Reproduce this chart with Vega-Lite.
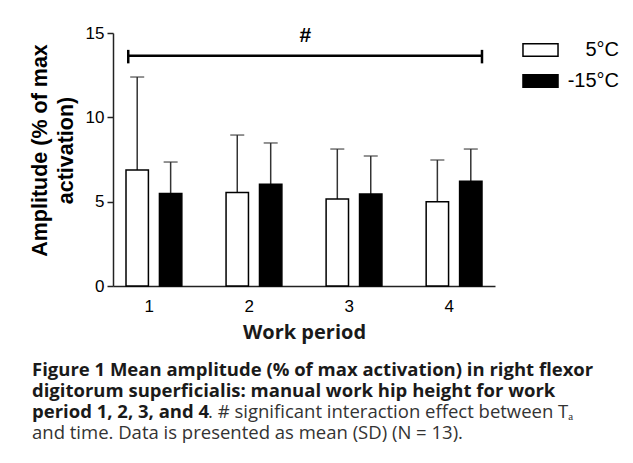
{
  "$schema": "https://vega.github.io/schema/vega-lite/v6.json",
  "autosize": "none",
  "width": 382,
  "height": 253,
  "padding": {"left": 113, "top": 33, "right": 138, "bottom": 177},
  "background": "white",
  "title": {
    "text": ["Figure 1 Mean amplitude (% of max activation) in right flexor", "digitorum superficialis: manual work hip height for work", "period 1, 2, 3, and 4"],
    "subtitle": ["\u200b\u00a0\u00a0\u00a0\u00a0\u00a0\u00a0\u00a0\u00a0\u00a0\u00a0\u00a0\u00a0\u00a0\u00a0\u00a0\u00a0\u00a0\u00a0\u00a0\u00a0\u00a0\u00a0\u00a0\u00a0\u00a0\u00a0\u00a0\u00a0\u00a0\u00a0\u00a0\u00a0\u00a0\u00a0\u00a0\u00a0\u2009. # significant interaction effect between T\u2090", "and time. Data is presented as mean (SD) (N = 13)."],
    "orient": "bottom",
    "anchor": "start",
    "frame": "group",
    "dx": -81,
    "offset": 19,
    "font": "Open Sans",
    "fontSize": 18.5,
    "fontWeight": "bold",
    "color": "#1a1a1a",
    "lineHeight": 21,
    "subtitleFont": "Open Sans",
    "subtitleFontSize": 18.5,
    "subtitleFontWeight": "normal",
    "subtitleColor": "#333333",
    "subtitleLineHeight": 21,
    "subtitlePadding": -18.5
  },
  "datasets": {
    "bars": [
      {"period": "1", "temp": "5°C", "mean": 6.88, "mean_plus_sd": 12.39},
      {"period": "1", "temp": "-15°C", "mean": 5.49, "mean_plus_sd": 7.35},
      {"period": "2", "temp": "5°C", "mean": 5.55, "mean_plus_sd": 8.95},
      {"period": "2", "temp": "-15°C", "mean": 6.03, "mean_plus_sd": 8.48},
      {"period": "3", "temp": "5°C", "mean": 5.16, "mean_plus_sd": 8.12},
      {"period": "3", "temp": "-15°C", "mean": 5.45, "mean_plus_sd": 7.71},
      {"period": "4", "temp": "5°C", "mean": 5.0, "mean_plus_sd": 7.47},
      {"period": "4", "temp": "-15°C", "mean": 6.21, "mean_plus_sd": 8.12}
    ],
    "sig": [
      {"from": "1", "to": "4", "bracket_y": 13.65, "cap_lo": 13.2, "cap_hi": 14.0, "label": "#", "label_y": 14.82}
    ]
  },
  "layer": [
    {
      "data": {"name": "bars"},
      "mark": {"type": "rule", "color": "#333333", "strokeWidth": 1.5},
      "encoding": {
        "x": {"field": "period", "type": "nominal", "title": "Work period"},
        "xOffset": {"field": "temp", "type": "nominal", "sort": ["5°C", "-15°C"]},
        "y": {"field": "mean", "type": "quantitative", "title": ["Amplitude (% of max", "activation)"]},
        "y2": {"field": "mean_plus_sd"}
      }
    },
    {
      "data": {"name": "bars"},
      "mark": {"type": "tick", "color": "#333333", "thickness": 1.5, "size": 14},
      "encoding": {
        "x": {"field": "period", "type": "nominal", "title": "Work period"},
        "xOffset": {"field": "temp", "type": "nominal", "sort": ["5°C", "-15°C"]},
        "y": {"field": "mean_plus_sd", "type": "quantitative", "title": ["Amplitude (% of max", "activation)"]}
      }
    },
    {
      "data": {"name": "bars"},
      "mark": {"type": "bar", "stroke": "black", "strokeWidth": 1.5},
      "encoding": {
        "x": {
          "field": "period", "type": "nominal", "title": "Work period",
          "scale": {"domain": ["1", "2", "3", "4"], "paddingInner": 0.442, "paddingOuter": 0.13},
          "axis": {
            "labelAngle": 0, "ticks": false, "tickSize": 0, "labelPadding": 20,
            "labelFont": "Liberation Sans", "labelFontSize": 17, "labelColor": "black",
            "domainColor": "#222222", "domainWidth": 1.5,
            "titleFont": "Open Sans", "titleFontSize": 20, "titleFontWeight": "bold", "titleColor": "#1a1a1a", "titlePadding": 8
          }
        },
        "xOffset": {
          "field": "temp", "type": "nominal", "sort": ["5°C", "-15°C"],
          "scale": {"domain": ["5°C", "-15°C"], "paddingInner": 0.33, "paddingOuter": 0}
        },
        "y": {
          "field": "mean", "type": "quantitative", "title": ["Amplitude (% of max", "activation)"],
          "scale": {"domain": [0, 15], "nice": false},
          "axis": {
            "values": [0, 5, 10, 15], "grid": false, "tickSize": 6, "tickWidth": 1.5, "tickColor": "#222222",
            "domainColor": "#222222", "domainWidth": 1.5, "labelPadding": 3,
            "labelFont": "Liberation Sans", "labelFontSize": 17, "labelColor": "black",
            "titleFont": "Liberation Sans", "titleFontSize": 21.5, "titleFontWeight": "bold", "titleColor": "black",
            "titleLineHeight": 26, "titlePadding": 8, "titleY": 117
          }
        },
        "fill": {
          "field": "temp", "type": "nominal",
          "scale": {"domain": ["5°C", "-15°C"], "range": ["white", "black"]},
          "legend": {
            "title": null, "orient": "none", "legendX": 414.5, "legendY": 4, "padding": 0,
            "symbolType": "M-1.46,-0.53H1.46V0.53H-1.46Z", "symbolSize": 576,
            "symbolStrokeColor": "black", "symbolStrokeWidth": 1.5,
            "labelFont": "Liberation Sans", "labelFontSize": 20, "labelColor": "black",
            "labelAlign": "right", "labelOffset": 65.5, "rowPadding": 8
          }
        }
      }
    },
    {
      "data": {"name": "sig"},
      "mark": {"type": "rule", "color": "black", "strokeWidth": 2.5},
      "encoding": {
        "x": {"field": "from", "type": "nominal", "bandPosition": 0.04, "title": "Work period"},
        "x2": {"field": "to", "bandPosition": 1},
        "y": {"field": "bracket_y", "type": "quantitative", "title": ["Amplitude (% of max", "activation)"]}
      }
    },
    {
      "data": {"name": "sig"},
      "mark": {"type": "rule", "color": "black", "strokeWidth": 2.5},
      "encoding": {
        "x": {"field": "from", "type": "nominal", "bandPosition": 0.04, "title": "Work period"},
        "y": {"field": "cap_lo", "type": "quantitative", "title": ["Amplitude (% of max", "activation)"]},
        "y2": {"field": "cap_hi"}
      }
    },
    {
      "data": {"name": "sig"},
      "mark": {"type": "rule", "color": "black", "strokeWidth": 2.5},
      "encoding": {
        "x": {"field": "to", "type": "nominal", "bandPosition": 1, "title": "Work period"},
        "y": {"field": "cap_lo", "type": "quantitative", "title": ["Amplitude (% of max", "activation)"]},
        "y2": {"field": "cap_hi"}
      }
    },
    {
      "data": {"name": "sig"},
      "mark": {"type": "text", "font": "Liberation Sans", "fontSize": 21, "fontWeight": "bold", "color": "black", "align": "center", "baseline": "middle"},
      "encoding": {
        "x": {"datum": "2", "type": "nominal", "bandPosition": 1.42, "title": "Work period"},
        "y": {"field": "label_y", "type": "quantitative", "title": ["Amplitude (% of max", "activation)"]},
        "text": {"field": "label"}
      }
    }
  ],
  "config": {
    "view": {"stroke": null},
    "font": "Liberation Sans"
  }
}
